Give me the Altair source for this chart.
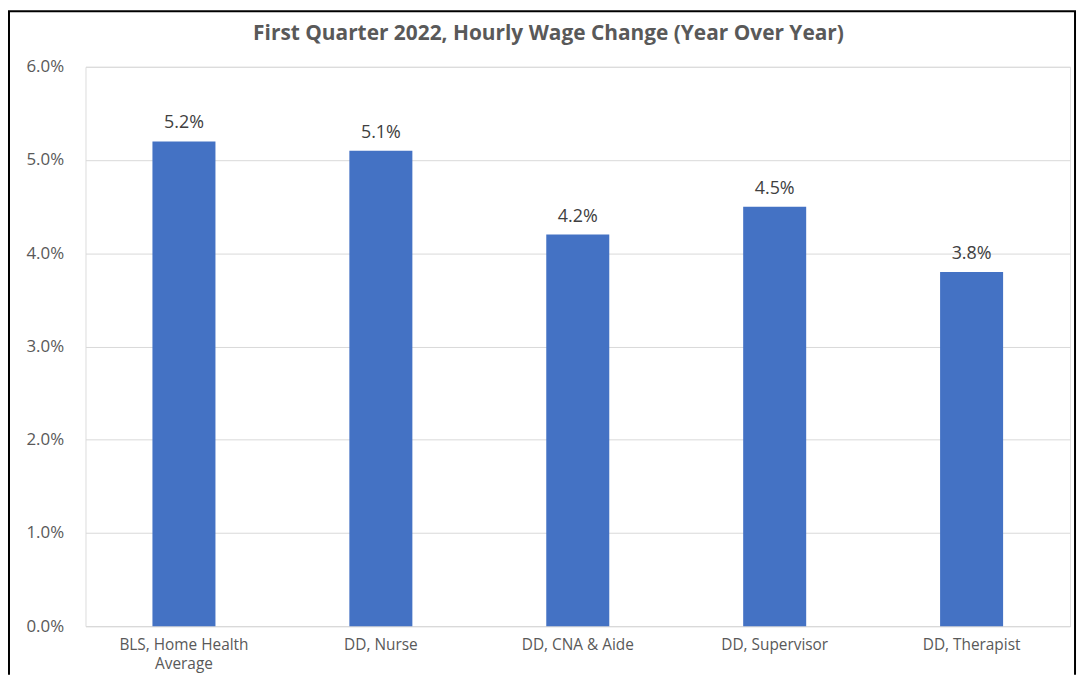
import altair as alt
import pandas as pd

categories = ["BLS, Home Health Average", "DD, Nurse", "DD, CNA & Aide", "DD, Supervisor", "DD, Therapist"]
values = [0.052, 0.051, 0.042, 0.045, 0.038]
y_ticks = [0.0, 0.01, 0.02, 0.03, 0.04, 0.05, 0.06]
title_text = "First Quarter 2022, Hourly Wage Change (Year Over Year)"

df = pd.DataFrame({"category": categories, "value": values})

FONT = "Open Sans"
GRAY = "#595959"
W, H = 991, 563

x_enc = alt.X(
    "category:N",
    sort=categories,
    scale=alt.Scale(paddingInner=0.68, paddingOuter=0.34),
    axis=alt.Axis(
        title=None,
        labelAngle=0,
        labelFont=FONT,
        labelFontSize=15.5,
        labelColor=GRAY,
        labelPadding=12,
        labelLineHeight=19,
        ticks=False,
        domain=True,
        domainColor="#d9d9d9",
        domainWidth=1,
        labelExpr="datum.value == 'BLS, Home Health Average' ? ['BLS, Home Health', 'Average'] : datum.label",
    ),
)
y_enc = alt.Y(
    "value:Q",
    scale=alt.Scale(domain=[0, 0.06], nice=False),
    axis=alt.Axis(
        title=None,
        values=y_ticks,
        format=".1%",
        labelFont=FONT,
        labelFontSize=17,
        labelColor=GRAY,
        labelPadding=22,
        ticks=False,
        domain=False,
        grid=True,
        gridColor="#d9d9d9",
        gridWidth=1,
    ),
)

bars = alt.Chart(df).mark_bar(color="#4472C4").encode(x=x_enc, y=y_enc)
labels = alt.Chart(df).mark_text(
    dy=-9, baseline="bottom", font=FONT, fontSize=18, color="#404040"
).encode(x=alt.X("category:N", sort=categories), y="value:Q", text=alt.Text("value:Q", format=".1%"))

one = alt.Data(values=[{}])
title = alt.Chart(one).mark_text(
    font=FONT, fontSize=21, fontWeight="bold", color=GRAY, baseline="middle", align="center"
).encode(x=alt.value(466), y=alt.value(-33), text=alt.value(title_text))

left = alt.Chart(one).mark_rule(color="#000000", strokeWidth=2).encode(
    x=alt.value(-77), y=alt.value(-56), y2=alt.value(H + 49)
)
top = alt.Chart(one).mark_rule(color="#000000", strokeWidth=2).encode(
    x=alt.value(-78), x2=alt.value(997), y=alt.value(-56)
)
right = alt.Chart(one).mark_rule(color="#000000", strokeWidth=2).encode(
    x=alt.value(996), y=alt.value(-56), y2=alt.value(H + 49)
)

chart = alt.layer(bars, labels, title, left, top, right).properties(
    width=W,
    height=H,
    autosize=alt.AutoSizeParams(type="none"),
    padding={"left": 78, "top": 57, "right": 8, "bottom": 49},
).configure_view(stroke=None).configure(background="white")

chart.save("out.html", embed_options={"renderer": "svg", "actions": False})
